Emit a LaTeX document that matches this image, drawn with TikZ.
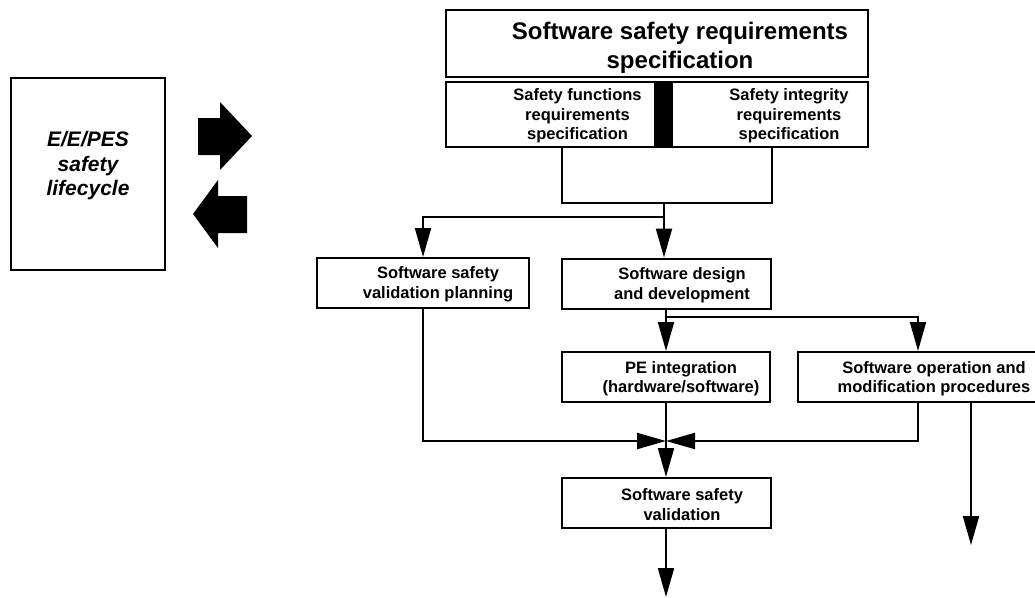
\documentclass[tikz,border=0pt]{standalone}
\usepackage{fontspec}
\setmainfont{Liberation Sans}
\usetikzlibrary{arrows.meta}
\tikzset{
 box/.style={draw, line width=2pt, minimum height=50pt, inner sep=0pt},
 txt/.style={font=\fontsize{16.5}{19.5}\selectfont\bfseries, align=center},
 title/.style={font=\fontsize{24}{29}\selectfont\bfseries, align=center},
 big/.style={font=\fontsize{21}{24.5}\selectfont\bfseries\itshape, align=center},
 link/.style={line width=2pt},
 flow/.style={line width=2pt, -{Triangle[width=16pt,length=29pt]}},
}
\begin{document}
\begin{tikzpicture}[x=1pt, y=-1pt]
 \useasboundingbox (0,0) rectangle (1035,597);
 % overall lifecycle and the two block arrows
 \node[box, minimum width=154pt, minimum height=192pt, label={[big, yshift=8pt]center:E/E/PES\\safety\\lifecycle}] (life) at (88,174) {};
 \fill (198,118)--(220,118)--(220,102)--(252,136)--(220,170)--(220,155)--(198,155)--cycle;
 \fill (247,196)--(218,196)--(218,180)--(193,214)--(218,248)--(218,233)--(247,233)--cycle;
 % requirements specification
 \node[box, minimum width=422pt, minimum height=67pt, label={[title, xshift=23pt, yshift=-4pt]center:Software safety requirements\\specification}] (srs) at (657,43.5) {};
 \node[box, minimum width=209pt, minimum height=65pt, label={[txt, xshift=27pt, yshift=-1.5pt]center:Safety functions\\requirements\\specification}] (func) at (550.5,114.5) {};
 \node[box, fill, minimum width=17pt, minimum height=65pt] (bar) at (663.5,114.5) {};
 \node[box, minimum width=196pt, minimum height=65pt, label={[txt, xshift=19pt, yshift=-1.5pt]center:Safety integrity\\requirements\\specification}] (integ) at (770,114.5) {};
 % phases
 \node[box, minimum width=212pt, label={[txt, xshift=15pt, yshift=-1.5pt]center:Software safety\\validation planning}] (plan) at (423,283) {};
 \node[box, minimum width=209pt, label={[txt, xshift=16pt, yshift=-1.5pt]center:Software design\\and development}] (design) at (666,283.5) {};
 \node[box, minimum width=208pt, label={[txt, xshift=15pt, yshift=-1.5pt]center:PE integration\\(hardware/software)}] (pe) at (666,377) {};
 \node[box, minimum width=240pt, label={[txt, xshift=16pt, yshift=-1.5pt]center:Software operation and\\modification procedures}] (ops) at (918,377) {};
 \node[box, minimum width=209pt, label={[txt, xshift=16pt, yshift=-1.5pt]center:Software safety\\validation}] (val) at (666,503) {};
 % connectors
 \coordinate (jl) at (562,203);
 \coordinate (jr) at (772,203);
 \coordinate (jm) at (664,203);
 \coordinate (fork) at (664,217);
 \coordinate (split) at (666,317);
 \coordinate (meet) at (666,441);
 \coordinate (opsout) at (971,545);
 \coordinate (valout) at (666,597);
 \draw[link] (func.south -| jl) -- (jl) -- (jr) -- (integ.south -| jr);
 \draw[flow] (jm) -- (jm |- design.north);
 \draw[flow] (fork) -| (plan.north);
 \draw[flow] (design.south) -- (pe.north);
 \draw[flow] (split) -| (ops.north);
 \draw[flow] (plan.south) |- (meet);
 \draw[flow] (ops.south) |- (meet);
 \draw[flow] (pe.south) -- (val.north);
 \draw[flow] (ops.south -| opsout) -- (opsout);
 \draw[flow] (val.south) -- (valout);
\end{tikzpicture}
\end{document}
